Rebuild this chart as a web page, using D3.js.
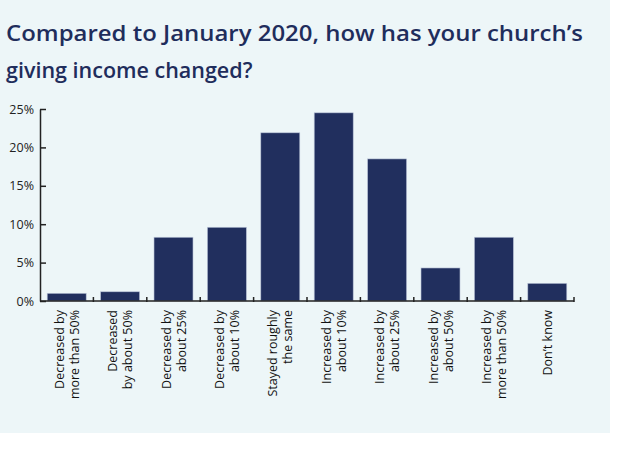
<!DOCTYPE html>
<html><head><meta charset="utf-8">
<script src="https://cdn.jsdelivr.net/npm/d3@7"></script>
<style>body{margin:0;background:#fff}svg{display:block}</style>
</head><body><svg id="c" width="630" height="473"></svg>
<script>
const categories = [
  ["Decreased by", "more than 50%"],
  ["Decreased", "by about 50%"],
  ["Decreased by", "about 25%"],
  ["Decreased by", "about 10%"],
  ["Stayed roughly", "the same"],
  ["Increased by", "about 10%"],
  ["Increased by", "about 25%"],
  ["Increased by", "about 50%"],
  ["Increased by", "more than 50%"],
  ["Don\u2019t know"]
];
const values = [1.0, 1.2, 8.3, 9.6, 21.9, 24.5, 18.5, 4.3, 8.3, 2.3];
const yTicks = [0, 5, 10, 15, 20, 25];
const font = "'Open Sans', sans-serif";

const svg = d3.select("#c");
svg.append("rect").attr("width", 610).attr("height", 433).attr("fill", "#edf6f8");

const title = svg.append("text").attr("fill", "#1f2d5c")
  .attr("font-family", font).attr("font-size", 21.5).attr("font-weight", 600);
title.append("tspan").attr("x", 6).attr("y", 41).attr("textLength", 577).attr("lengthAdjust", "spacingAndGlyphs")
  .text("Compared to January 2020, how has your church\u2019s");
title.append("tspan").attr("x", 6).attr("y", 78).text("giving income changed?");

const x = d3.scaleBand().domain(d3.range(categories.length)).range([40, 574]).paddingInner(0.27).paddingOuter(0.135);
const y = d3.scaleLinear().domain([0, 25]).range([301, 109]);

svg.append("g").selectAll("rect").data(values).join("rect")
  .attr("x", (d, i) => x(i)).attr("width", x.bandwidth())
  .attr("y", d => y(d)).attr("height", d => y(0) - y(d))
  .attr("fill", "#212f5e").attr("stroke", "#b8c2d6").attr("stroke-width", 0.6);

const yAxis = svg.append("g").attr("transform", "translate(40,0)")
  .call(d3.axisLeft(y).tickValues(yTicks).tickFormat(d => d + "%").tickSize(8).tickSizeOuter(0));
yAxis.select(".domain").attr("stroke", "#222").attr("stroke-width", 1.5);
yAxis.selectAll(".tick line").attr("stroke", "#222").attr("stroke-width", 1.5).attr("x2", 6).attr("x1", 0);
yAxis.selectAll(".tick text").attr("x", -6).attr("font-size", 12.5).attr("font-family", font).attr("fill", "#222");

// x axis line with ticks at band boundaries
const step = x.step();
const bounds = d3.range(categories.length + 1).map(i => 40 + i * step);
const xg = svg.append("g");
xg.append("line").attr("x1", 40).attr("x2", 574).attr("y1", y(0)).attr("y2", y(0))
  .attr("stroke", "#222").attr("stroke-width", 1.5);
xg.selectAll("line.t").data(bounds.slice(1)).join("line").attr("class", "t")
  .attr("x1", d => d).attr("x2", d => d).attr("y1", y(0) - 4).attr("y2", y(0) + 1)
  .attr("stroke", "#222").attr("stroke-width", 1.5);

const labels = svg.append("g").selectAll("text").data(categories).join("text")
  .attr("transform", (d, i) => `translate(${x(i) + x.bandwidth() / 2},310) rotate(-90)`)
  .attr("text-anchor", "end").attr("font-size", 12.5).attr("font-family", font).attr("fill", "#111");
labels.each(function (d) {
  const t = d3.select(this);
  const n = d.length;
  d.forEach((line, k) => {
    t.append("tspan").attr("x", 0).attr("y", (k - (n - 1) / 2) * 15 + 4.5).text(line);
  });
});
</script></body></html>
